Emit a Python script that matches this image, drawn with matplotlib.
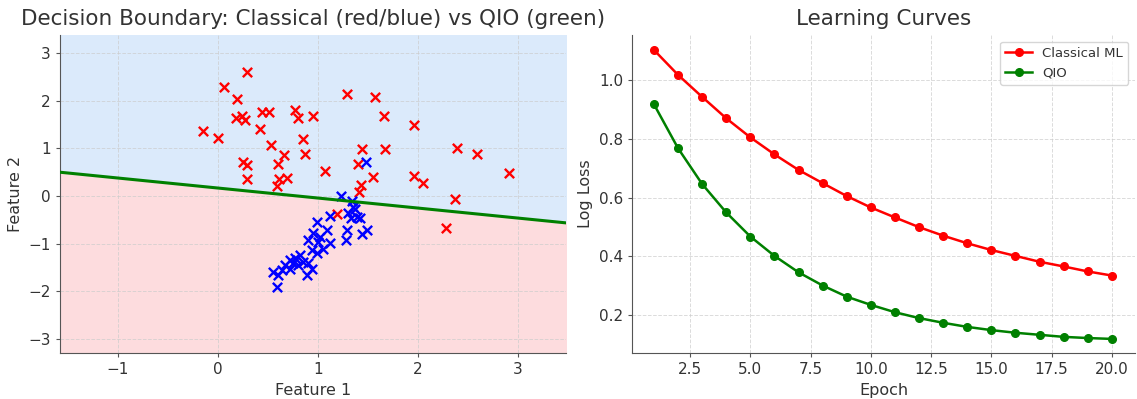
import numpy as np
import matplotlib
matplotlib.use("Agg")
import matplotlib.pyplot as plt

# ---- data ----
red_x = [0.29, 0.06, 0.19, 0.18, 0.24, 0.27, -0.15, 0.00, 0.42, 0.44, 0.51, 0.77, 0.80,
         0.95, 1.29, 1.57, 0.53, 0.85, 0.87, 0.66, 0.60, 0.25, 0.29, 0.29, 0.61, 0.69,
         0.59, 1.07, 1.44, 1.40, 1.55, 1.43, 1.41, 1.66, 1.96, 1.67, 2.39, 2.59, 2.91,
         1.96, 2.05, 2.37, 2.28, 1.19]
red_y = [2.61, 2.28, 2.03, 1.64, 1.68, 1.59, 1.37, 1.21, 1.40, 1.77, 1.77, 1.80, 1.63,
         1.68, 2.15, 2.08, 1.07, 1.20, 0.89, 0.86, 0.67, 0.72, 0.66, 0.35, 0.37, 0.39,
         0.22, 0.52, 0.99, 0.67, 0.40, 0.23, 0.09, 1.68, 1.49, 0.98, 1.01, 0.88, 0.49,
         0.42, 0.27, -0.05, -0.67, -0.38]
blue_x = [1.48, 1.23, 1.34, 1.35, 1.30, 1.39, 1.12, 0.99, 1.09, 1.29, 1.49, 1.44, 1.28,
          0.95, 0.90, 1.00, 1.12, 1.05, 0.94, 0.99, 0.82, 0.77, 0.72, 0.85, 0.90, 0.67,
          0.72, 0.64, 0.94, 0.89, 0.55, 0.60, 0.59, 1.33, 1.42, 1.37, 0.80, 0.75, 1.02]
blue_y = [0.72, 0.01, -0.10, -0.22, -0.35, -0.43, -0.42, -0.54, -0.70, -0.71, -0.70,
          -0.80, -0.91, -0.78, -0.92, -0.96, -0.99, -1.10, -1.13, -1.20, -1.24, -1.29,
          -1.34, -1.38, -1.41, -1.45, -1.52, -1.54, -1.52, -1.66, -1.59, -1.66, -1.91,
          -0.45, -0.45, -0.28, -1.45, -1.40, -0.85]
qio_intercept = 0.17
qio_slope = -0.21

epochs = list(range(1, 21))
classical_loss = [1.103, 1.018, 0.943, 0.870, 0.805, 0.747, 0.694, 0.649, 0.605, 0.566,
                  0.532, 0.499, 0.470, 0.444, 0.421, 0.401, 0.381, 0.365, 0.348, 0.334]
qio_loss = [0.918, 0.768, 0.646, 0.549, 0.467, 0.401, 0.345, 0.300, 0.262, 0.234,
            0.209, 0.189, 0.173, 0.159, 0.148, 0.139, 0.132, 0.125, 0.121, 0.118]

# ---- style ----
txt = "#333333"
plt.rcParams.update({
    "font.family": "DejaVu Sans",
    "text.color": txt,
    "axes.labelcolor": txt,
    "xtick.color": "#555555",
    "ytick.color": "#555555",
    "xtick.labelcolor": txt,
    "ytick.labelcolor": txt,
    "axes.edgecolor": "#555555",
})

W, H = 1137, 399
fig = plt.figure(figsize=(W / 100, H / 100), dpi=100)
ax1 = fig.add_axes([60 / W, (H - 353) / H, 506 / W, 318 / H])
ax2 = fig.add_axes([632 / W, (H - 353) / H, 503 / W, 318 / H])

for ax in (ax1, ax2):
    ax.spines["top"].set_visible(False)
    ax.spines["right"].set_visible(False)
    ax.grid(True, linestyle="--", color="#cccccc", linewidth=0.7, alpha=0.7)
    ax.set_axisbelow(True)
    ax.tick_params(labelsize=11, length=3)

# left panel
xlim = (-1.58, 3.48)
ylim = (-3.29, 3.38)
xx = np.linspace(xlim[0], xlim[1], 200)
line_y = qio_intercept + qio_slope * xx
ax1.fill_between(xx, line_y, ylim[1], color="#dbeafb", zorder=0)
ax1.fill_between(xx, ylim[0], line_y, color="#fddcde", zorder=0)
ax1.scatter(red_x, red_y, marker="x", color="red", s=45, linewidths=1.7, zorder=3)
ax1.scatter(blue_x, blue_y, marker="x", color="blue", s=45, linewidths=1.7, zorder=3)
ax1.plot(xx, line_y, color="green", linewidth=2.2, zorder=4)
ax1.set_xlim(xlim)
ax1.set_ylim(ylim)
ax1.set_xticks([-1, 0, 1, 2, 3])
ax1.set_yticks([-3, -2, -1, 0, 1, 2, 3])
ax1.set_xlabel("Feature 1", fontsize=11.5)
ax1.set_ylabel("Feature 2", fontsize=11.5)
ax1.set_title("Decision Boundary: Classical (red/blue) vs QIO (green)", fontsize=15.5,
              color=txt, pad=7)

# right panel
ax2.plot(epochs, classical_loss, color="red", marker="o", markersize=5.5, linewidth=1.8,
         label="Classical ML")
ax2.plot(epochs, qio_loss, color="green", marker="o", markersize=5.5, linewidth=1.8,
         label="QIO")
ax2.set_xlim(0.09, 20.96)
ax2.set_ylim(0.07, 1.154)
ax2.set_xticks([2.5, 5.0, 7.5, 10.0, 12.5, 15.0, 17.5, 20.0])
ax2.set_yticks([0.2, 0.4, 0.6, 0.8, 1.0])
ax2.set_xlabel("Epoch", fontsize=11.5)
ax2.set_ylabel("Log Loss", fontsize=11.5)
ax2.set_title("Learning Curves", fontsize=15.5, color=txt, pad=7)
leg = ax2.legend(loc="upper right", fontsize=9.5, frameon=True, fancybox=True)
leg.get_frame().set_edgecolor("#cccccc")

fig.savefig("out.png", dpi=100)
